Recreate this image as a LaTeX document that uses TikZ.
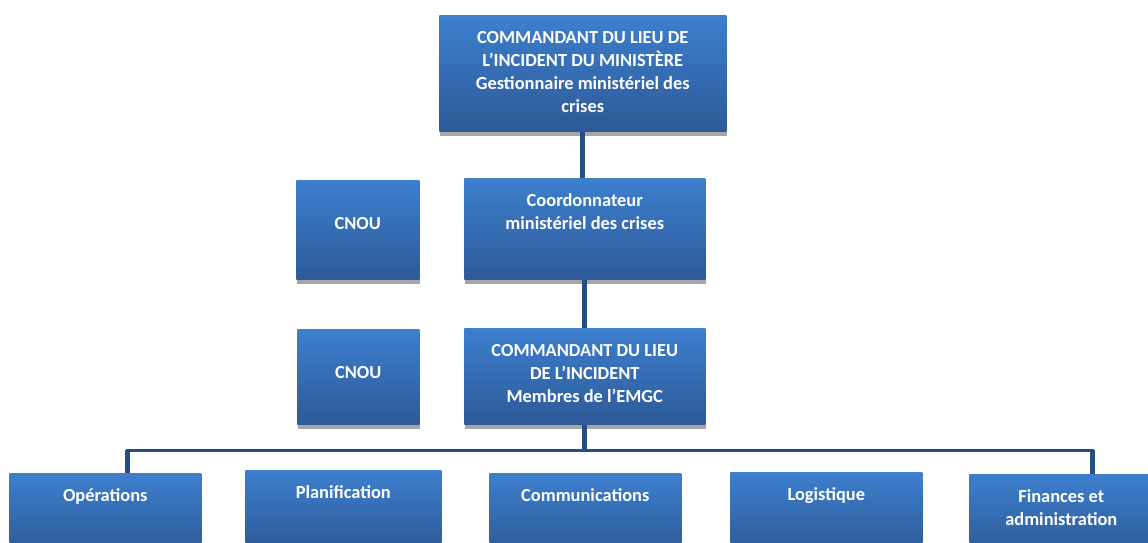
\documentclass[tikz,border=0pt]{standalone}
\usepackage{fontspec}
\setmainfont{Carlito}
\usetikzlibrary{calc,shadows}

\definecolor{boxtop}{HTML}{3D7FCE}
\definecolor{boxbot}{HTML}{2D5A97}
\definecolor{linkblue}{HTML}{234E86}
\definecolor{shadowgrey}{HTML}{A6A6A6}

% box text: width, height, text (optional: height of first line)
\newcommand\boxtext[4][21pt]{\parbox[c][#3][t]{#2}{\centering\rule{0pt}{#1}#4}}

\begin{document}
\begin{tikzpicture}[
  x=0.75pt,y=-0.75pt,
  orgbox/.style={rectangle, anchor=north west, inner sep=0pt, top color=boxtop, bottom color=boxbot,
    text=white, font=\bfseries\fontsize{13.8pt}{17.2pt}\selectfont,
    drop shadow={shadow xshift=0.4pt, shadow yshift=-3.5pt, opacity=1, fill=shadowgrey}},
  link/.style={line width=3.75pt, draw=linkblue},
  bar/.style={line width=2.25pt, draw=linkblue}
]
\useasboundingbox (0,0) rectangle (1148,542);

% top of the chain
\node[orgbox] (mincmd) at (439,15) {\boxtext{215.25pt}{87pt}{COMMANDANT DU LIEU DE\\L'INCIDENT DU MINISTÈRE\\Gestionnaire ministériel des\\crises}};
\node[orgbox] (coord) at (464,178) {\boxtext{180.75pt}{75.75pt}{Coordonnateur\\ministériel des crises}};
\node[orgbox] (cmdlieu) at (464,328) {\boxtext{180.75pt}{72pt}{COMMANDANT DU LIEU\\DE L'INCIDENT\\Membres de l'EMGC}};

\node[orgbox] (cnoua) at (296,180) {\boxtext[37pt]{92.25pt}{74.25pt}{CNOU}};
\node[orgbox] (cnoub) at (297,329) {\boxtext[37pt]{91.5pt}{71.25pt}{CNOU}};

% sections
\node[orgbox] (ops) at (9,473) {\boxtext{144pt}{60pt}{Opérations}};
\node[orgbox] (plan) at (245,470) {\boxtext{147pt}{60pt}{Planification}};
\node[orgbox] (comm) at (489,473) {\boxtext{144pt}{60pt}{Communications}};
\node[orgbox] (logi) at (730,472) {\boxtext{144pt}{60pt}{Logistique}};
\node[orgbox] (fin) at (969,474) {\boxtext{138pt}{60pt}{Finances et\\administration}};

\draw[link] (mincmd.south) -- (mincmd.south |- coord.north);
\draw[link] (coord.south) -- (coord.south |- cmdlieu.north);

\coordinate (split) at (584,450);
\draw[link] (cmdlieu.south) -- (cmdlieu.south |- split);
\draw[bar] ($(ops.north)+(22,0)$) |- (split) -| ($(fin.north)+(31,0)$);
\draw[link] ($(ops.north)+(22,0)$) -- ++(0,-23);
\draw[link] ($(fin.north)+(31,0)$) -- ++(0,-24);
\foreach \sect/\dx in {plan/3, comm/-24, logi/1}
  \draw[link] ($(\sect.north)+(\dx,0)$) -- ($(\sect.north)+(\dx,0)$ |- split);
\end{tikzpicture}
\end{document}
